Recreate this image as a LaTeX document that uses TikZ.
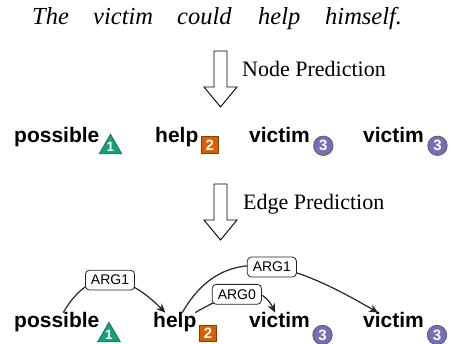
\documentclass[tikz,border=0pt]{standalone}
\usepackage{fontspec}
\setmainfont{Liberation Serif}
\newfontfamily\helv{Liberation Sans}
\usepackage{tikz}
\usepackage{xcolor}
\usetikzlibrary{arrows.meta,shapes.geometric,positioning}
\definecolor{mark-green}{HTML}{1B9E77}
\definecolor{mark-orange}{HTML}{D95F02}
\definecolor{mark-purple}{HTML}{7570B3}
\tikzset{
    sent-word/.style = {anchor=base west, inner sep=0pt, font=\fontsize{24.5}{28}\selectfont\itshape},
    token/.style = {anchor=base west, inner sep=0pt, font=\helv\bfseries\fontsize{21}{24}\selectfont},
    step-label/.style = {anchor=base west, inner sep=0pt, font=\fontsize{22}{26}\selectfont},
    id-mark/.style = {text=white, inner sep=0pt, line width=0.6pt, font=\helv\bfseries\fontsize{15}{16}\selectfont},
    tri-mark/.style = {id-mark, regular polygon, regular polygon sides=3, minimum size=25.5pt, fill=mark-green, draw=mark-green!65!black, font=\helv\bfseries\fontsize{13.5}{14}\selectfont},
    box-mark/.style = {id-mark, rectangle, minimum size=16.5pt, fill=mark-orange, draw=mark-orange!65!black},
    circ-mark/.style = {id-mark, circle, minimum size=19.5pt, fill=mark-purple, draw=mark-purple!65!black},
    arg-edge/.style = {draw=black!85, line width=1.2pt, -{Stealth[length=9pt, width=8pt]}},
    arg-label/.style = {draw=black!85, fill=white, rounded corners=4pt, line width=0.8pt, inner xsep=5.5pt, inner ysep=5pt, font=\helv\fontsize{14}{16}\selectfont},
    block-arrow/.pic = {\draw[line width=0.9pt, fill=white] (-6.5,0) -- (-6.5,-36) -- (-16.5,-36) -- (0,-56) -- (16.5,-36) -- (6.5,-36) -- (6.5,0) -- cycle;},
}

\begin{document}
\begin{tikzpicture}[x=1pt, y=1pt]
\useasboundingbox (0,0) rectangle (451,344);

% input sentence
\node[sent-word] (w1) at (32,319) {The};
\node[sent-word] (w2) at (93,319) {victim};
\node[sent-word] (w3) at (177,319) {could};
\node[sent-word] (w4) at (258,319) {help};
\node[sent-word] (w5) at (325,319) {himself.};

% node prediction
\pic at (220.5,293) {block-arrow};
\node[step-label] (np) at (242,267) {Node Prediction};

\node[token] (p1) at (14,201.5) {possible};
\node[token] (h1) at (155,201.5) {help};
\node[token] (va1) at (249,201.5) {victim};
\node[token] (vb1) at (363,201.5) {victim};
\node[tri-mark] (t1) at (110.5,196.7) {1};
\node[box-mark] (b1) at (209.7,199) {2};
\node[circ-mark] (ca1) at (323.3,198.2) {3};
\node[circ-mark] (cb1) at (437.5,198.2) {3};

% edge prediction
\pic at (220.5,160) {block-arrow};
\node[step-label] (ep) at (243,134) {Edge Prediction};

\node[token] (p2) at (14,16) {possible};
\node[token] (h2) at (153,16) {help};
\node[token] (va2) at (249,16) {victim};
\node[token] (vb2) at (363,16) {victim};
\node[tri-mark] (t2) at (109,8.7) {1};
\node[box-mark] (b2) at (208,10.5) {2};
\node[circ-mark] (ca2) at (322.5,9) {3};
\node[circ-mark] (cb2) at (437,9) {3};

\draw[arg-edge] ([xshift=6.5pt]p2.north) to[out=60, in=135, distance=55pt] node[arg-label] (arg-a) {ARG1} ([xshift=-9.5pt]h2.north);
\draw[arg-edge] ([xshift=7.5pt]h2.north) to[out=60, in=150, distance=90pt] node[arg-label, pos=0.52] (arg-b) {ARG1} ([xshift=-15.5pt]vb2.north);
\draw[arg-edge] ([xshift=20.5pt]h2.north) to[out=30, in=115, distance=36pt] node[arg-label, pos=0.45] (arg-c) {ARG0} ([xshift=-4.5pt]va2.north);
\end{tikzpicture}
\end{document}
